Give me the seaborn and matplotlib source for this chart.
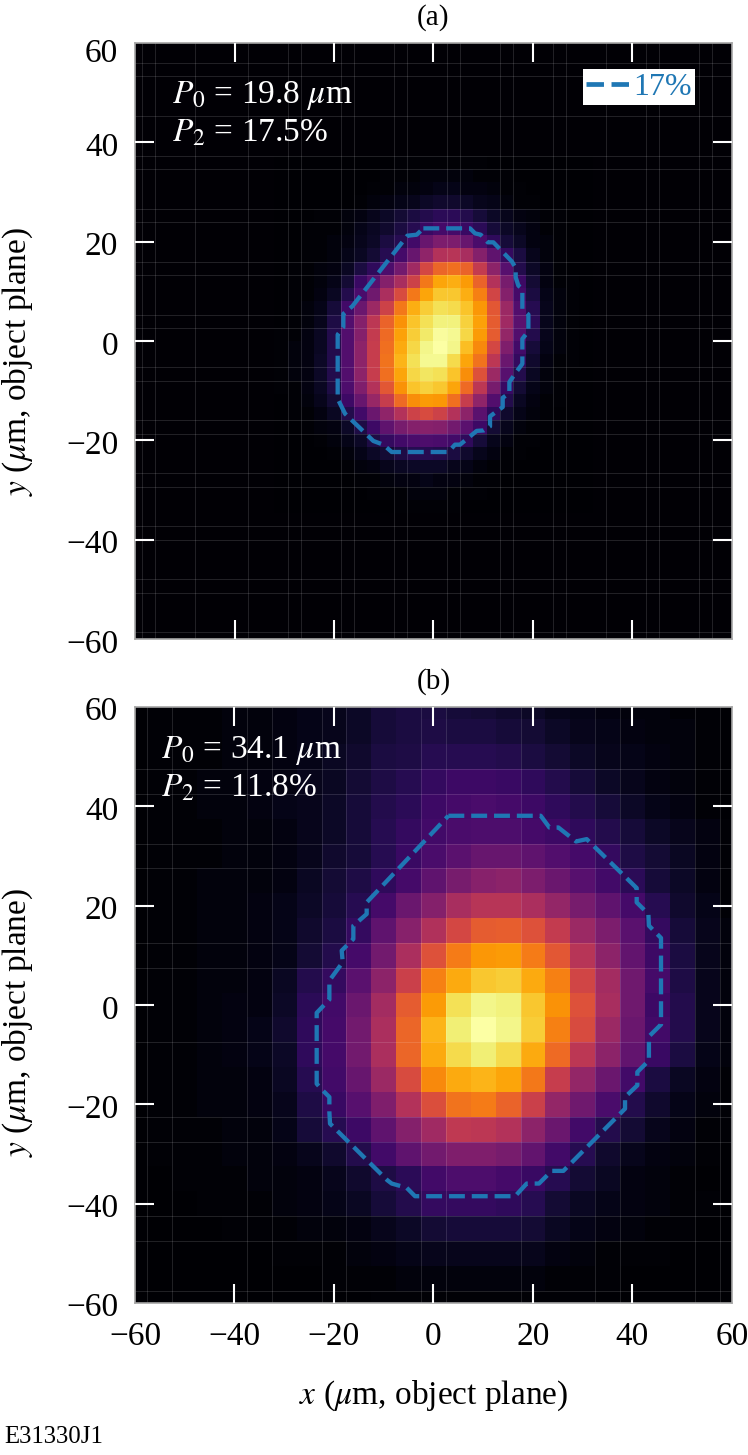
"""Two inferno heatmaps of the focal spot with their 17% contours."""

import matplotlib

matplotlib.use("Agg")
import matplotlib.pyplot as plt
import numpy as np
import seaborn as sns
from matplotlib.transforms import ScaledTranslation

TICKS = [-60, -40, -20, 0, 20, 40, 60]
TICK_LABELS = ["\u221260", "\u221240", "\u221220", "0", "20", "40", "60"]

# panel (a): 46 x 46 cells, 2.667 um pitch; block below is the lit part, rows 9-35, cols 11-34
CORE_A = [
    [.00, .00, .00, .00, .00, .00, .00, .00, .00, .01, .01, .01, .01, .01, .01, .01, .00, .00, .00, .00, .00, .00, .00, .00],
    [.00, .00, .00, .00, .00, .00, .00, .00, .01, .01, .01, .02, .02, .02, .02, .01, .01, .01, .00, .00, .00, .00, .00, .00],
    [.00, .00, .00, .00, .00, .00, .00, .01, .01, .02, .02, .03, .04, .04, .03, .03, .02, .01, .01, .00, .00, .00, .00, .00],
    [.00, .00, .00, .00, .00, .00, .01, .02, .03, .04, .05, .07, .08, .08, .07, .05, .04, .02, .01, .01, .00, .00, .00, .00],
    [.00, .00, .00, .01, .01, .02, .03, .05, .07, .09, .11, .13, .15, .15, .13, .10, .07, .05, .03, .02, .01, .01, .00, .00],
    [.00, .00, .01, .01, .01, .02, .04, .06, .08, .11, .14, .18, .21, .21, .18, .15, .10, .07, .05, .03, .01, .01, .00, .00],
    [.00, .00, .01, .01, .02, .03, .05, .07, .11, .14, .20, .29, .34, .34, .29, .22, .16, .10, .07, .03, .02, .01, .00, .00],
    [.00, .00, .01, .01, .02, .04, .06, .09, .14, .21, .29, .39, .48, .49, .45, .36, .27, .17, .11, .05, .02, .01, .00, .00],
    [.00, .01, .01, .02, .03, .06, .11, .16, .23, .32, .43, .57, .66, .68, .65, .52, .38, .25, .13, .07, .03, .01, .00, .00],
    [.00, .01, .01, .02, .04, .09, .18, .25, .36, .45, .55, .70, .80, .82, .78, .65, .48, .33, .19, .09, .03, .01, .01, .00],
    [.00, .01, .01, .03, .06, .13, .22, .31, .46, .58, .70, .80, .87, .87, .82, .72, .56, .36, .21, .11, .04, .02, .01, .00],
    [.00, .01, .02, .04, .10, .20, .30, .42, .55, .70, .82, .88, .92, .91, .86, .77, .62, .42, .24, .14, .05, .02, .01, .00],
    [.00, .01, .02, .05, .12, .24, .36, .50, .65, .76, .86, .92, .96, .96, .89, .79, .63, .43, .26, .15, .05, .02, .01, .00],
    [.01, .01, .03, .06, .13, .24, .36, .52, .67, .79, .88, .94, .99, .98, .90, .78, .63, .40, .24, .13, .05, .02, .01, .00],
    [.01, .02, .03, .06, .13, .24, .38, .53, .68, .81, .90, .97, 1.0, .97, .85, .74, .57, .35, .20, .10, .04, .02, .01, .00],
    [.01, .02, .03, .07, .13, .24, .38, .53, .69, .83, .92, .98, .98, .91, .80, .69, .50, .30, .17, .08, .03, .01, .01, .00],
    [.01, .02, .03, .07, .13, .24, .38, .53, .68, .80, .90, .93, .92, .86, .75, .60, .42, .25, .13, .06, .02, .01, .00, .00],
    [.01, .01, .03, .06, .12, .23, .35, .48, .62, .76, .86, .89, .87, .80, .67, .50, .33, .18, .09, .04, .02, .01, .00, .00],
    [.00, .01, .02, .05, .09, .19, .29, .41, .53, .67, .75, .78, .77, .68, .53, .39, .24, .13, .06, .03, .01, .01, .00, .00],
    [.00, .01, .01, .03, .06, .13, .20, .30, .39, .48, .55, .58, .55, .48, .38, .26, .16, .08, .04, .02, .01, .00, .00, .00],
    [.00, .00, .01, .02, .03, .07, .12, .19, .27, .33, .36, .37, .36, .32, .26, .19, .09, .05, .02, .01, .01, .00, .00, .00],
    [.00, .00, .00, .01, .02, .04, .07, .12, .17, .20, .22, .23, .22, .20, .16, .10, .05, .03, .01, .01, .00, .00, .00, .00],
    [.00, .00, .00, .00, .01, .02, .04, .07, .09, .12, .14, .14, .13, .11, .08, .05, .03, .01, .01, .00, .00, .00, .00, .00],
    [.00, .00, .00, .00, .00, .01, .02, .03, .05, .06, .07, .07, .07, .05, .04, .02, .01, .01, .00, .00, .00, .00, .00, .00],
    [.00, .00, .00, .00, .00, .00, .01, .01, .02, .03, .03, .04, .03, .03, .02, .01, .01, .00, .00, .00, .00, .00, .00, .00],
    [.00, .00, .00, .00, .00, .00, .00, .01, .01, .01, .02, .02, .02, .01, .01, .01, .00, .00, .00, .00, .00, .00, .00, .00],
    [.00, .00, .00, .00, .00, .00, .00, .00, .00, .01, .01, .01, .01, .01, .00, .00, .00, .00, .00, .00, .00, .00, .00, .00],
]
BACKGROUND_A = 0.006

# panel (b): 25 x 25 cells, 5 um pitch, y from 60 down to -60, x from -60 to 60
GRID_B = [
    [.00, .01, .01, .01, .02, .02, .03, .04, .05, .07, .10, .11, .11, .10, .09, .08, .07, .05, .04, .03, .02, .02, .01, .01, .00],
    [.00, .01, .01, .01, .02, .02, .03, .04, .05, .07, .10, .11, .12, .11, .11, .10, .09, .07, .05, .04, .03, .02, .02, .01, .00],
    [.00, .01, .01, .01, .02, .02, .03, .04, .06, .08, .11, .12, .14, .14, .14, .13, .11, .09, .07, .05, .04, .03, .02, .01, .00],
    [.00, .01, .01, .02, .02, .03, .03, .05, .06, .09, .12, .14, .17, .19, .19, .18, .16, .13, .10, .07, .05, .03, .02, .01, .00],
    [.00, .01, .01, .02, .02, .03, .04, .05, .07, .10, .13, .15, .19, .21, .22, .21, .19, .16, .13, .10, .07, .04, .03, .01, .00],
    [.00, .01, .01, .01, .02, .02, .03, .05, .07, .10, .14, .17, .20, .22, .23, .23, .21, .19, .16, .13, .10, .07, .05, .03, .01],
    [.00, .01, .01, .01, .02, .02, .03, .05, .08, .10, .14, .18, .22, .26, .29, .29, .27, .24, .21, .17, .12, .09, .06, .03, .01],
    [.00, .01, .01, .02, .02, .02, .03, .06, .09, .12, .16, .21, .27, .33, .37, .38, .34, .30, .25, .20, .15, .10, .07, .03, .01],
    [.00, .01, .01, .02, .02, .03, .04, .07, .10, .14, .21, .30, .36, .45, .49, .49, .46, .40, .33, .27, .21, .14, .08, .04, .01],
    [.00, .01, .01, .02, .02, .03, .04, .08, .11, .17, .27, .37, .47, .57, .63, .64, .60, .52, .42, .34, .26, .17, .10, .05, .02],
    [.00, .01, .01, .02, .02, .03, .04, .09, .13, .21, .32, .46, .60, .71, .77, .78, .71, .62, .49, .38, .28, .19, .11, .05, .02],
    [.00, .01, .01, .02, .02, .03, .06, .13, .17, .26, .38, .54, .72, .81, .87, .88, .81, .72, .56, .44, .31, .21, .12, .05, .02],
    [.00, .01, .01, .02, .03, .03, .07, .15, .20, .30, .44, .63, .78, .92, .97, .96, .87, .76, .60, .45, .31, .19, .13, .05, .02],
    [.00, .01, .01, .02, .03, .04, .08, .16, .21, .32, .46, .66, .83, .95, 1.0, .97, .88, .72, .58, .42, .30, .20, .13, .05, .02],
    [.00, .01, .01, .02, .03, .04, .07, .16, .21, .32, .46, .66, .81, .91, .95, .91, .81, .67, .50, .38, .28, .18, .11, .04, .02],
    [.00, .01, .01, .02, .02, .03, .06, .14, .20, .29, .42, .58, .74, .81, .83, .80, .70, .53, .40, .30, .20, .11, .06, .03, .01],
    [.00, .01, .01, .02, .02, .03, .05, .12, .18, .25, .35, .48, .59, .69, .71, .65, .54, .40, .31, .22, .13, .08, .04, .02, .01],
    [.00, .01, .01, .01, .02, .02, .04, .10, .14, .19, .27, .36, .43, .51, .50, .48, .38, .30, .20, .13, .09, .05, .03, .01, .01],
    [.00, .01, .01, .01, .02, .02, .03, .05, .08, .13, .20, .27, .32, .35, .35, .33, .28, .20, .14, .08, .05, .03, .02, .01, .00],
    [.00, .00, .01, .01, .01, .02, .02, .03, .05, .08, .12, .15, .20, .23, .23, .21, .18, .14, .09, .06, .03, .02, .01, .00, .00],
    [.00, .00, .00, .01, .01, .01, .02, .03, .04, .06, .10, .13, .17, .17, .17, .16, .14, .09, .06, .04, .03, .02, .01, .01, .00],
    [.00, .00, .00, .00, .01, .01, .01, .02, .02, .03, .05, .07, .09, .10, .10, .10, .09, .06, .04, .03, .02, .01, .01, .00, .00],
    [.00, .00, .00, .00, .00, .00, .01, .01, .01, .02, .03, .04, .05, .05, .05, .05, .05, .03, .02, .01, .01, .01, .00, .00, .00],
    [.00, .00, .00, .00, .00, .00, .00, .00, .01, .01, .01, .02, .02, .02, .02, .02, .02, .01, .01, .01, .00, .00, .00, .00, .00],
    [.00, .00, .00, .00, .00, .00, .00, .00, .00, .00, .01, .01, .01, .01, .01, .01, .01, .01, .01, .00, .00, .00, .00, .00, .00],
]

# 17% contours in um
CONTOUR_A_X = [-2.04, 7.34, 8.35, 9.49, 10.9, 12.03, 15.72, 16.52, 16.52, 17.06, 17.86, 17.86, 19.07, 19.07, 17.86,
               17.86, 16.52, 15.25, 15.25, 13.91, 13.91, 12.7, 11.36, 11.36, 10.15, 8.68, 5.33, 4.32, 2.99, -8.4,
               -10.08, -12.09, -17.78, -19.26, -19.26, -18.12, -18.12, -16.31, -5.26, -3.38, -2.04]
CONTOUR_A_Y = [22.68, 22.68, 21.67, 21.4, 19.87, 19.87, 16.05, 14.7, 12.83, 11.15, 10.48, 6.33, 5.33, 1.97, 0.43,
               -4.59, -6.4, -8.28, -10.5, -11.43, -13.3, -14.17, -15.18, -17.2, -18.0, -18.1, -20.87, -20.87, -22.35, -22.35,
               -20.87, -20.13, -14.64, -11.63, 1.3, 2.78, 5.46, 7.0, 21.2, 21.4, 22.68]
CONTOUR_B_X = [2.99, 21.55, 23.29, 25.1, 28.65, 30.79, 40.84, 40.84, 43.19, 43.3, 45.73, 45.73, 43.3, 43.3, 40.97,
               40.97, 38.5, 38.5, 26.1, 23.76, 21.2, 18.73, 16.4, -3.71, -5.39, -8.4, -9.28, -20.8, -20.93, -20.93,
               -22.47, -23.48, -23.48, -20.93, -20.93, -18.25, -18.45, -16.11, -16.11, -13.43, -13.43, 2.99]
CONTOUR_B_Y = [38.1, 38.1, 35.74, 35.74, 32.93, 33.4, 23.55, 20.66, 18.32, 15.97, 13.5, -3.93, -6.34, -11.16, -13.5,
               -16.19, -18.53, -20.88, -33.4, -33.4, -35.95, -35.95, -38.5, -38.5, -36.8, -35.95, -35.28, -23.89, -21.55, -18.53,
               -17.0, -15.85, -1.58, 1.1, 4.92, 8.6, 10.95, 13.3, 15.97, 18.32, 20.66, 38.1]

# faint seams in the rendered image, as cell-edge indices
SEAMS_A_X = [1, 2, 5, 9, 12, 13, 16, 17, 20, 21, 24, 25, 28, 29, 32, 33, 36, 39, 40, 43, 44]
SEAMS_A_Y = [2, 3, 6, 9, 10, 13, 14, 17, 18, 21, 22, 25, 26, 29, 30, 33, 34, 37, 38, 41, 42, 45]
SEAMS_B_X = [1, 2, 5, 6, 8, 9, 12, 13, 16, 19, 20, 23, 24]
SEAMS_B_Y = [3, 4, 6, 7, 10, 11, 14, 17, 18, 21, 22, 24]

ANNOTATIONS_A = [r"$P_0$ = 19.8 $\mu$m", r"$P_2$ = 17.5%"]
ANNOTATIONS_B = [r"$P_0$ = 34.1 $\mu$m", r"$P_2$ = 11.8%"]

CONTOUR_COLOR = "#1f77b4"
FIG_W, FIG_H = 748, 1455


def build_grid_a() -> np.ndarray:
    """Place the lit block of panel (a) on its dark background."""

    grid = np.full((46, 46), BACKGROUND_A)
    core = np.array(CORE_A)
    grid[9:9 + core.shape[0], 11:11 + core.shape[1]] = core
    return grid


def draw_panel(ax, grid, pitch, contour_x, contour_y, seams_x, seams_y, notes, note_x, note_y):
    """Draw one heatmap panel, with axes running from -60 to 60 um."""

    n_cells = grid.shape[0]

    def to_col(value):
        return (np.asarray(value, dtype=float) + 60) / pitch + 0.5

    def to_row(value):
        return (60 - np.asarray(value, dtype=float)) / pitch + 0.5

    sns.heatmap(grid, ax=ax, cmap="inferno", vmin=0, vmax=1, cbar=False, xticklabels=False, yticklabels=False)
    ax.vlines(seams_x, 0, n_cells, color="white", alpha=0.13, linewidth=0.75)
    ax.hlines(seams_y, 0, n_cells, color="white", alpha=0.13, linewidth=0.75)
    line, = ax.plot(to_col(contour_x), to_row(contour_y), color=CONTOUR_COLOR, linewidth=3.1,
                    linestyle=(0, (3.7, 1.6)), label="17%")
    ax.set_xlim(to_col(-60), to_col(60))
    ax.set_ylim(to_row(-60), to_row(60))
    ax.set_axisbelow(False)

    ax.set_xticks(to_col(TICKS))
    ax.set_yticks(to_row(TICKS))
    ax.set_xticklabels(TICK_LABELS, rotation=0)
    ax.set_yticklabels(TICK_LABELS, rotation=0)
    ax.tick_params(axis="both", direction="in", bottom=True, left=True, top=True, right=True, color="white",
                   width=1.5, length=13.5, labelsize=24, labelcolor="black")
    ax.tick_params(axis="x", pad=13)
    ax.tick_params(axis="y", pad=12)
    for axis in (ax.xaxis, ax.yaxis):
        for index in (0, -1):
            tick = axis.get_major_ticks()[index]
            tick.tick1line.set_visible(False)
            tick.tick2line.set_visible(False)

    for side in ax.spines.values():
        side.set_visible(True)
        side.set_color("#a6a6a6")
        side.set_linewidth(1.2)

    for text, y_pos in zip(notes, note_y):
        ax.text(note_x, y_pos, text, transform=ax.transAxes, color="white", fontsize=24, va="baseline")
    return line


def nudge_labels(ax, fig, shifts):
    """Move y tick labels down by the given number of pixels."""

    for label, shift in zip(ax.get_yticklabels(), shifts):
        label.set_transform(label.get_transform() + ScaledTranslation(0, -shift / 100, fig.dpi_scale_trans))


def main() -> None:
    sns.set_theme(style="white")
    plt.rcParams["font.family"] = ["Liberation Serif", "DejaVu Serif"]
    plt.rcParams["mathtext.fontset"] = "stix"
    plt.rcParams["text.color"] = "black"
    plt.rcParams["axes.labelcolor"] = "black"

    fig = plt.figure(figsize=(FIG_W / 100, FIG_H / 100), dpi=100)
    ax_a = fig.add_axes([135 / FIG_W, 1 - 639 / FIG_H, 597 / FIG_W, 596 / FIG_H])
    ax_b = fig.add_axes([135 / FIG_W, 1 - 1303 / FIG_H, 597 / FIG_W, 596 / FIG_H])

    line_a = draw_panel(ax_a, build_grid_a(), 120 / 45, CONTOUR_A_X, CONTOUR_A_Y, SEAMS_A_X, SEAMS_A_Y,
                        ANNOTATIONS_A, 0.062, [0.899, 0.834])
    draw_panel(ax_b, np.array(GRID_B), 5.0, CONTOUR_B_X, CONTOUR_B_Y, SEAMS_B_X, SEAMS_B_Y,
               ANNOTATIONS_B, 0.044, [0.914, 0.850])

    ax_a.set_xticklabels([])
    ax_a.set_title("(a)", fontsize=21, pad=13)
    ax_b.set_title("(b)", fontsize=21, pad=13)

    legend = ax_a.legend(handles=[line_a], loc="upper right", bbox_to_anchor=(0.938, 0.956), borderaxespad=0,
                         fontsize=23, frameon=True, fancybox=False, framealpha=1, facecolor="white", edgecolor="none",
                         labelcolor=CONTOUR_COLOR, handlelength=1.35, handletextpad=0.12, borderpad=0.1)
    legend.get_frame().set_linewidth(0)
    legend.get_lines()[0].set_linewidth(3.4)

    ax_a.set_ylabel(r"$y$ ($\mu$m, object plane)", fontsize=24)
    ax_b.set_ylabel(r"$y$ ($\mu$m, object plane)", fontsize=24)
    ax_a.yaxis.set_label_coords(-0.168, 0.466)
    ax_b.yaxis.set_label_coords(-0.168, 0.47)
    ax_b.set_xlabel(r"$x$ ($\mu$m, object plane)", fontsize=24, va="center")
    ax_b.xaxis.set_label_coords(0.5, -0.156)

    nudge_labels(ax_a, fig, [2, 2, 2, 2, 2, 2, 7])
    nudge_labels(ax_b, fig, [1, 2, 2, 2, 2, 2, 1])

    fig.text(4 / FIG_W, 1 - 1443 / FIG_H, "E31330J1", fontsize=17.8, color="black", va="baseline")

    fig.savefig("out.png", dpi=100)
    plt.close(fig)


if __name__ == "__main__":
    main()
